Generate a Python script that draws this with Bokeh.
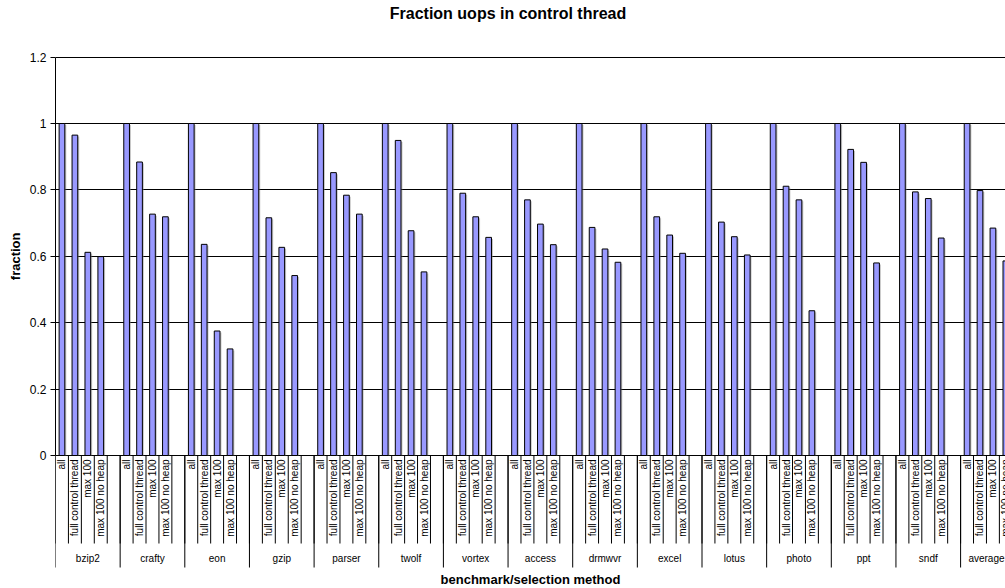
import numpy as np
from bokeh.plotting import figure
from bokeh.models import Range1d, FixedTicker, Label, ColumnDataSource, Title
from bokeh.core.properties import value
from bokeh.embed import file_html
from bokeh.resources import INLINE

# ---- data -------------------------------------------------------------
benchmarks = ["bzip2", "crafty", "eon", "gzip", "parser", "twolf", "vortex",
              "access", "drmwvr", "excel", "lotus", "photo", "ppt", "sndf",
              "average"]
methods = ["all", "full control thread", "max 100", "max 100 no heap"]

frac_all = [1.0] * 15
frac_full = [0.965, 0.884, 0.636, 0.716, 0.852, 0.949, 0.790, 0.770, 0.687,
             0.719, 0.703, 0.811, 0.922, 0.794, 0.798]
frac_max100 = [0.612, 0.727, 0.375, 0.627, 0.784, 0.677, 0.719, 0.697, 0.622,
               0.664, 0.659, 0.770, 0.883, 0.774, 0.685]
frac_noheap = [0.599, 0.719, 0.321, 0.542, 0.727, 0.553, 0.657, 0.635, 0.582,
               0.609, 0.604, 0.436, 0.580, 0.655, 0.586]

y_ticks = [0, 0.2, 0.4, 0.6, 0.8, 1, 1.2]
y_tick_labels = ["0", "0.2", "0.4", "0.6", "0.8", "1", "1.2"]

# ---- category slots: 4 methods per benchmark, blank slot between groups --
series = [frac_all, frac_full, frac_max100, frac_noheap]
bar_x, bar_top, bar_lbl = [], [], []
group_start, group_len = [], []
slot = 0
for g, name in enumerate(benchmarks):
    group_start.append(slot)
    for k, m in enumerate(methods):
        bar_x.append(slot + 0.5)
        bar_top.append(series[k][g])
        bar_lbl.append(m)
        slot += 1
    n = len(methods) + (1 if g < len(benchmarks) - 1 else 0)
    group_len.append(n)
    if g < len(benchmarks) - 1:
        slot += 1
n_slots = slot

# ---- geometry helpers (pixels -> data units) ---------------------------
PX_X = 12.93      # pixels per category slot
PX_Y = 332.0      # pixels per unit of fraction
W, H = 1005, 588
LEFT = 55         # left edge of the value area
ZERO_PX = 455     # vertical pixel position of fraction = 0
frame_w = W - LEFT
y_top = ZERO_PX / PX_Y
y_bottom = -(H - ZERO_PX) / PX_Y

FONT = value("Liberation Sans")

p = figure(width=W, height=H, output_backend="svg", toolbar_location=None,
           x_range=Range1d(0, frame_w / PX_X), y_range=Range1d(y_bottom, y_top),
           min_border_left=LEFT, min_border_top=0, min_border_right=0,
           min_border_bottom=0)
p.outline_line_color = None
p.background_fill_color = "white"
p.border_fill_color = "white"

# vertical axis title, centred on the 0..1.2 span
ytitle = Title(text="fraction", align="right", offset=232,
               text_font="Liberation Sans", text_font_size="13px",
               text_font_style="bold", text_color="black", standoff=7)
p.add_layout(ytitle, "left")

# axes / grid
p.xaxis.visible = False
p.xgrid.visible = False
yax = p.yaxis[0]
yax.ticker = FixedTicker(ticks=y_ticks)
yax.major_label_overrides = dict(zip(y_ticks, y_tick_labels))
yax.bounds = (0, 1.2)
yax.axis_line_color = "black"
yax.major_tick_line_color = "black"
yax.major_tick_out = 5
yax.major_tick_in = 0
yax.minor_tick_line_color = None
yax.major_label_text_font = "Liberation Sans"
yax.major_label_text_font_size = "12px"
yax.major_label_text_color = "black"
yax.major_label_standoff = 4
p.ygrid.ticker = FixedTicker(ticks=y_ticks)
p.ygrid.grid_line_color = "black"
p.ygrid.grid_line_width = 1

# chart title, centred over the whole chart
p.add_layout(Label(x=(W / 2 + 5 - LEFT) / PX_X, y=1.2 + 44 / PX_Y,
                   text="Fraction uops in control thread",
                   text_font="Liberation Sans", text_font_size="16px",
                   text_font_style="bold", text_color="black",
                   text_align="center", text_baseline="middle"))

# bars with a soft drop shadow
src = ColumnDataSource(dict(x=bar_x, top=bar_top,
                            sx=[x + 1.5 / PX_X for x in bar_x],
                            stop=[t - 1.5 / PX_Y for t in bar_top]))
p.vbar(x="sx", top="stop", bottom=0, width=0.44, source=src,
       fill_color="#808080", fill_alpha=0.45, line_color=None)
p.vbar(x="x", top="top", bottom=0, width=0.44, source=src,
       fill_color="#9999FF", line_color="black", line_width=1)

# category axis: rotated method labels with separators
lbl_y = -4 / PX_Y
p.text(x=bar_x, y=[lbl_y] * len(bar_x), text=bar_lbl, angle=np.pi / 2,
       text_font=FONT, text_font_size=value("10px"), text_color="black",
       text_align="right", text_baseline="middle")

sep_short = -88 / PX_Y
sep_long = -112 / PX_Y
slot_edges = list(range(n_slots + 1))
p.segment(x0=slot_edges, y0=[0] * len(slot_edges), x1=slot_edges,
          y1=[sep_short] * len(slot_edges), line_color="black", line_width=1)
grp_edges = group_start + [n_slots]
p.segment(x0=grp_edges, y0=[0] * len(grp_edges), x1=grp_edges,
          y1=[sep_long] * len(grp_edges), line_color="black", line_width=1)

grp_cx = [s + n / 2 for s, n in zip(group_start, group_len)]
p.text(x=grp_cx, y=[-103 / PX_Y] * len(grp_cx), text=benchmarks,
       text_font=FONT, text_font_size=value("10px"), text_color="black",
       text_align="center", text_baseline="middle")

# horizontal axis title
p.add_layout(Label(x=(frame_w / PX_X) / 2, y=-124 / PX_Y,
                   text="benchmark/selection method", text_font="Liberation Sans",
                   text_font_size="13px", text_font_style="bold",
                   text_align="center", text_baseline="middle", text_color="black"))

open("out.html", "w").write(file_html(p, INLINE))
